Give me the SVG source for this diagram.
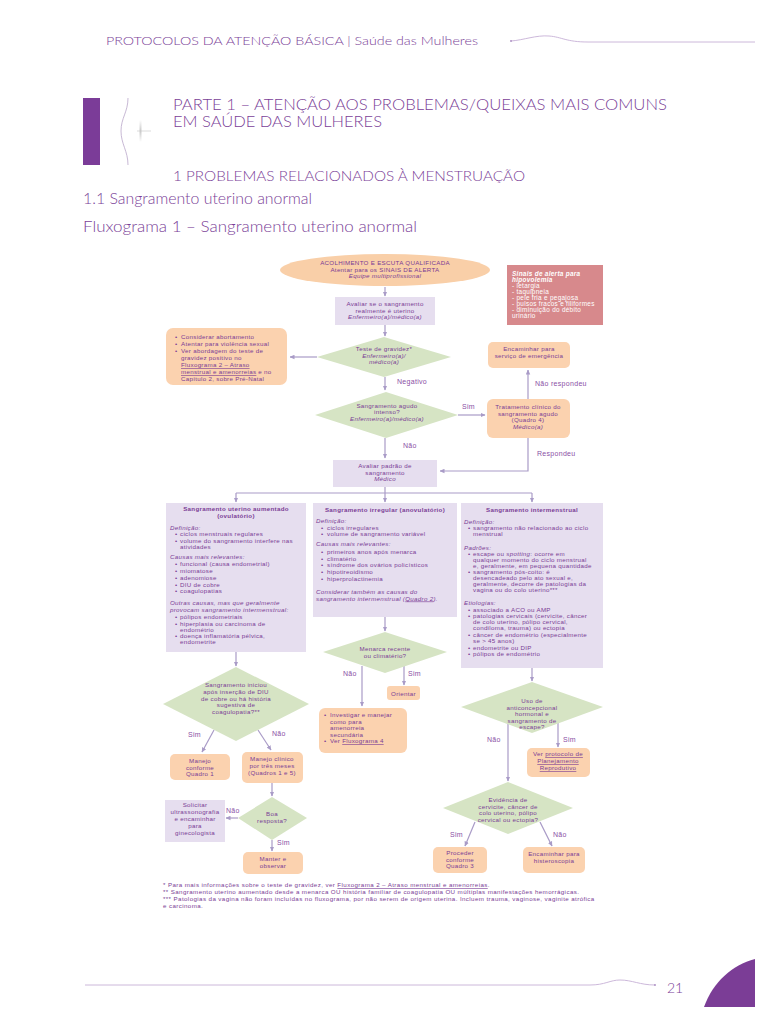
<svg xmlns="http://www.w3.org/2000/svg" width="768" height="1024" viewBox="0 0 768 1024">
<defs>
<marker id="ah" viewBox="0 0 10 10" refX="9" refY="5" markerWidth="5" markerHeight="5" orient="auto" markerUnits="userSpaceOnUse"><path d="M0,0.5 L10,5 L0,9.5 Z" fill="#a99bc7"/></marker>
<linearGradient id="tickg" x1="0" y1="0" x2="0" y2="1"><stop offset="0" stop-color="#ffffff"/><stop offset="0.5" stop-color="#c8c8c8"/><stop offset="1" stop-color="#ffffff"/></linearGradient>
<style>
.h{font-family:"Lato","Open Sans","Liberation Sans",sans-serif;fill:#7b3f98;font-weight:300}
.t{font-family:"Liberation Sans","Arimo",Arial,sans-serif;font-size:6.2px;letter-spacing:0.3px;fill:#7a3c95}
.w{fill:#ffffff;font-size:6.4px}
.f{letter-spacing:0.4px}
.c{text-anchor:middle}
.i{font-style:italic}
.b{font-weight:bold}
.peach{fill:#fbd2af}
.green{fill:#d6e4c4}
.lav{fill:#e6deef}
.con{stroke:#a99bc7;stroke-width:1.2;fill:none}
.lbl{font-family:"Liberation Sans",Arial,sans-serif;font-size:7px;letter-spacing:0.3px;fill:#8a4fa5}
.u{text-decoration:underline}
</style>
</defs>
<rect width="768" height="1024" fill="#ffffff"/>

<g id="page-header">
<text class="h" x="106" y="45" font-size="12" textLength="372" lengthAdjust="spacingAndGlyphs">PROTOCOLOS DA ATENÇÃO BÁSICA | Saúde das Mulheres</text>
<path d="M511,41 C524,40 536,35 549,36 C562,37 566,42 588,42 L755,42" fill="none" stroke="#c6b0d6" stroke-width="0.9"/>
<circle cx="511" cy="41" r="0.9" fill="#a98bc0"/>
<rect x="83" y="98" width="17" height="67" fill="#7b3c98"/>
<path d="M128,98 C128,112 121,118 121,131 C121,144 128,151 128,165" fill="none" stroke="#b9a6c9" stroke-width="0.8"/>
<line x1="137" y1="131" x2="151" y2="131" stroke="#c4c4c4" stroke-width="0.6"/>
<rect x="139.5" y="120" width="2" height="22" fill="url(#tickg)"/>
<text class="h" x="173" y="110" font-size="15.5" fill="#8c58a8" textLength="494" lengthAdjust="spacingAndGlyphs">PARTE 1 – ATENÇÃO AOS PROBLEMAS/QUEIXAS MAIS COMUNS</text>
<text class="h" x="173" y="127" font-size="15.5" textLength="209" lengthAdjust="spacingAndGlyphs">EM SAÚDE DAS MULHERES</text>
<text class="h" x="173" y="181" font-size="14" textLength="352" lengthAdjust="spacingAndGlyphs">1 PROBLEMAS RELACIONADOS À MENSTRUAÇÃO</text>
<text class="h" x="83" y="204" font-size="15" textLength="229" lengthAdjust="spacingAndGlyphs">1.1 Sangramento uterino anormal</text>
<text class="h" x="83" y="232" font-size="15" textLength="334" lengthAdjust="spacingAndGlyphs">Fluxograma 1 – Sangramento uterino anormal</text>
</g>

<g id="connectors">
<line class="con" x1="385" y1="287" x2="385" y2="296" marker-end="url(#ah)"/>
<line class="con" x1="385" y1="325" x2="385" y2="336" marker-end="url(#ah)"/>
<line class="con" x1="317" y1="357" x2="290" y2="357" marker-end="url(#ah)"/>
<line class="con" x1="385" y1="377" x2="385" y2="390" marker-end="url(#ah)"/>
<line class="con" x1="458" y1="415" x2="485" y2="415" marker-end="url(#ah)"/>
<line class="con" x1="528" y1="399" x2="528" y2="370" marker-end="url(#ah)"/>
<polyline class="con" points="528,438 528,471 440,471" marker-end="url(#ah)"/>
<line class="con" x1="385" y1="438" x2="385" y2="458" marker-end="url(#ah)"/>
<polyline class="con" points="385,487 385,493"/>
<line class="con" x1="236" y1="493" x2="532" y2="493"/>
<line class="con" x1="236" y1="493" x2="236" y2="502" marker-end="url(#ah)"/>
<line class="con" x1="385" y1="493" x2="385" y2="502" marker-end="url(#ah)"/>
<line class="con" x1="532" y1="493" x2="532" y2="502" marker-end="url(#ah)"/>
<line class="con" x1="236" y1="652" x2="236" y2="666" marker-end="url(#ah)"/>
<line class="con" x1="214" y1="730" x2="202" y2="752" marker-end="url(#ah)"/>
<line class="con" x1="258" y1="730" x2="271" y2="750" marker-end="url(#ah)"/>
<line class="con" x1="272" y1="783" x2="272" y2="796" marker-end="url(#ah)"/>
<line class="con" x1="238" y1="818" x2="226" y2="818" marker-end="url(#ah)"/>
<line class="con" x1="272" y1="840" x2="272" y2="851" marker-end="url(#ah)"/>
<line class="con" x1="385" y1="617" x2="385" y2="631" marker-end="url(#ah)"/>
<line class="con" x1="362" y1="666" x2="362" y2="706" marker-end="url(#ah)"/>
<line class="con" x1="404" y1="666" x2="404" y2="685" marker-end="url(#ah)"/>
<line class="con" x1="532" y1="668" x2="532" y2="681" marker-end="url(#ah)"/>
<line class="con" x1="508" y1="724" x2="508" y2="781" marker-end="url(#ah)"/>
<line class="con" x1="558" y1="723" x2="558" y2="747" marker-end="url(#ah)"/>
<line class="con" x1="475" y1="822" x2="465" y2="846" marker-end="url(#ah)"/>
<line class="con" x1="540" y1="822" x2="552" y2="846" marker-end="url(#ah)"/>
</g>

<g id="edge-labels">
<text class="lbl" x="397" y="384">Negativo</text>
<text class="lbl" x="462" y="409">Sim</text>
<text class="lbl" x="535" y="386">Não respondeu</text>
<text class="lbl" x="537" y="456">Respondeu</text>
<text class="lbl" x="403" y="448">Não</text>
<text class="lbl" x="188" y="737">Sim</text>
<text class="lbl" x="272" y="736">Não</text>
<text class="lbl" x="226" y="813">Não</text>
<text class="lbl" x="277" y="845">Sim</text>
<text class="lbl" x="343" y="676">Não</text>
<text class="lbl" x="408" y="676">Sim</text>
<text class="lbl" x="487" y="742">Não</text>
<text class="lbl" x="563" y="742">Sim</text>
<text class="lbl" x="450" y="837">Sim</text>
<text class="lbl" x="553" y="837">Não</text>
</g>

<g id="n-acolhimento">
<ellipse cx="385" cy="270" rx="105" ry="16" fill="#f9cfa8"/>
<text class="t c"><tspan x="385" y="265">ACOLHIMENTO E ESCUTA QUALIFICADA</tspan><tspan x="385" y="271.5">Atentar para os SINAIS DE ALERTA</tspan><tspan x="385" y="278" class="i">Equipe multiprofissional</tspan></text>
</g>

<g id="n-sinais">
<rect x="507" y="265" width="96" height="60" fill="#d7898c"/>
<text class="t w"><tspan x="512" y="276" class="i b">Sinais de alerta para</tspan><tspan x="512" y="282" class="i b">hipovolemia</tspan><tspan x="512" y="288">- letargia</tspan><tspan x="512" y="294">- taquipneia</tspan><tspan x="512" y="300">- pele fria e pegajosa</tspan><tspan x="512" y="306">- pulsos fracos e filiformes</tspan><tspan x="512" y="312">- diminuição do débito</tspan><tspan x="512" y="318">urinário</tspan></text>
</g>

<g id="n-avaliar-uterino">
<rect x="335" y="297" width="100" height="28" class="lav"/>
<text class="t c"><tspan x="385" y="306">Avaliar se o sangramento</tspan><tspan x="385" y="312.5">realmente é uterino</tspan><tspan x="385" y="319" class="i">Enfermeiro(a)/médico(a)</tspan></text>
</g>

<g id="n-gravidez-positivo">
<rect x="166" y="328" width="121" height="57" rx="7" class="peach"/>
<text class="t"><tspan x="175" y="339">•</tspan><tspan x="181">Considerar abortamento</tspan><tspan x="175" y="346">•</tspan><tspan x="181">Atentar para violência sexual</tspan><tspan x="175" y="353">•</tspan><tspan x="181">Ver abordagem do teste de</tspan><tspan x="181" y="360">gravidez positivo no</tspan><tspan x="181" y="367" class="u">Fluxograma 2 – Atraso</tspan><tspan x="181" y="374" class="u">menstrual e amenorreias</tspan><tspan> e no</tspan><tspan x="181" y="381">Capítulo 2, sobre Pré-Natal</tspan></text>
</g>

<g id="n-teste-gravidez">
<polygon points="384,337 451,357 384,377 317,357" class="green"/>
<text class="t c"><tspan x="384" y="351">Teste de gravidez*</tspan><tspan x="384" y="357.5" class="i">Enfermeiro(a)/</tspan><tspan x="384" y="364" class="i">médico(a)</tspan></text>
</g>

<g id="n-sangramento-agudo">
<polygon points="386,392 458,415 386,438 315,415" class="green"/>
<text class="t c"><tspan x="387" y="408">Sangramento agudo</tspan><tspan x="387" y="414">intenso?</tspan><tspan x="387" y="420.5" class="i">Enfermeiro(a)/médico(a)</tspan></text>
</g>

<g id="n-emergencia">
<rect x="488" y="342" width="82" height="26" rx="5" class="peach"/>
<text class="t c"><tspan x="529" y="351">Encaminhar para</tspan><tspan x="529" y="358">serviço de emergência</tspan></text>
</g>

<g id="n-tratamento">
<rect x="487" y="399" width="83" height="39" rx="6" class="peach"/>
<text class="t c"><tspan x="528" y="409">Tratamento clínico do</tspan><tspan x="528" y="415.5">sangramento agudo</tspan><tspan x="528" y="422">(Quadro 4)</tspan><tspan x="528" y="428.5" class="i">Médico(a)</tspan></text>
</g>

<g id="n-avaliar-padrao">
<rect x="333" y="460" width="104" height="27" class="lav"/>
<text class="t c"><tspan x="385" y="468">Avaliar padrão de</tspan><tspan x="385" y="474.5">sangramento</tspan><tspan x="385" y="481" class="i">Médico</tspan></text>
</g>

<g id="n-ovulatorio">
<rect x="166" y="503" width="140" height="149" class="lav"/>
<text class="t"><tspan x="236" y="511" class="b" text-anchor="middle">Sangramento uterino aumentado</tspan><tspan x="236" y="517.5" class="b" text-anchor="middle">(ovulatório)</tspan><tspan x="170" y="530" class="i">Definição:</tspan><tspan x="175" y="536">•</tspan><tspan x="180">ciclos menstruais regulares</tspan><tspan x="175" y="543">•</tspan><tspan x="180">volume do sangramento interfere nas</tspan><tspan x="180" y="549">atividades</tspan><tspan x="170" y="559" class="i">Causas mais relevantes:</tspan><tspan x="175" y="566">•</tspan><tspan x="180">funcional (causa endometrial)</tspan><tspan x="175" y="573">•</tspan><tspan x="180">miomatose</tspan><tspan x="175" y="580">•</tspan><tspan x="180">adenomiose</tspan><tspan x="175" y="586.5">•</tspan><tspan x="180">DIU de cobre</tspan><tspan x="175" y="593">•</tspan><tspan x="180">coagulopatias</tspan><tspan x="170" y="605" class="i">Outras causas, mas que geralmente</tspan><tspan x="170" y="611.5" class="i">provocam sangramento intermenstrual:</tspan><tspan x="175" y="619">•</tspan><tspan x="180">pólipos endometriais</tspan><tspan x="175" y="625.5">•</tspan><tspan x="180">hiperplasia ou carcinoma de</tspan><tspan x="180" y="631.5">endométrio</tspan><tspan x="175" y="638">•</tspan><tspan x="180">doença inflamatória pélvica,</tspan><tspan x="180" y="644">endometrite</tspan></text>
</g>

<g id="n-anovulatorio">
<rect x="313" y="503" width="144" height="114" class="lav"/>
<text class="t"><tspan x="385" y="512" class="b" text-anchor="middle">Sangramento irregular (anovulatório)</tspan><tspan x="316" y="523" class="i">Definição:</tspan><tspan x="321" y="529.5">•</tspan><tspan x="327">ciclos irregulares</tspan><tspan x="321" y="536">•</tspan><tspan x="327">volume de sangramento variável</tspan><tspan x="316" y="545.5" class="i">Causas mais relevantes:</tspan><tspan x="321" y="554">•</tspan><tspan x="327">primeiros anos após menarca</tspan><tspan x="321" y="560.5">•</tspan><tspan x="327">climatério</tspan><tspan x="321" y="567">•</tspan><tspan x="327">síndrome dos ovários policísticos</tspan><tspan x="321" y="574">•</tspan><tspan x="327">hipotireoidismo</tspan><tspan x="321" y="581">•</tspan><tspan x="327">hiperprolactinemia</tspan><tspan x="316" y="594" class="i">Considerar também as causas do</tspan><tspan x="316" y="600.5" class="i">sangramento intermenstrual (</tspan><tspan class="i u">Quadro 2</tspan><tspan class="i">).</tspan></text>
</g>

<g id="n-intermenstrual">
<rect x="461" y="503" width="142" height="165" class="lav"/>
<text class="t"><tspan x="532" y="512" class="b" text-anchor="middle">Sangramento intermenstrual</tspan><tspan x="464" y="524" class="i">Definição:</tspan><tspan x="468" y="530">•</tspan><tspan x="473">sangramento não relacionado ao ciclo</tspan><tspan x="473" y="536">menstrual</tspan><tspan x="464" y="550" class="i">Padrões:</tspan><tspan x="468" y="556">•</tspan><tspan x="473">escape ou </tspan><tspan class="i">spotting</tspan><tspan>: ocorre em</tspan><tspan x="473" y="562">qualquer momento do ciclo menstrual</tspan><tspan x="473" y="568">e, geralmente, em pequena quantidade</tspan><tspan x="468" y="574">•</tspan><tspan x="473">sangramento pós-coito: é</tspan><tspan x="473" y="580">desencadeado pelo ato sexual e,</tspan><tspan x="473" y="586">geralmente, decorre de patologias da</tspan><tspan x="473" y="592">vagina ou do colo uterino***</tspan><tspan x="464" y="605" class="i">Etiologias:</tspan><tspan x="468" y="612">•</tspan><tspan x="473">associado a ACO ou AMP</tspan><tspan x="468" y="618">•</tspan><tspan x="473">patologias cervicais (cervicite, câncer</tspan><tspan x="473" y="624">de colo uterino, pólipo cervical,</tspan><tspan x="473" y="630">condiloma, trauma) ou ectopia</tspan><tspan x="468" y="637">•</tspan><tspan x="473">câncer de endométrio (especialmente</tspan><tspan x="473" y="643">se &gt; 45 anos)</tspan><tspan x="468" y="650">•</tspan><tspan x="473">endometrite ou DIP</tspan><tspan x="468" y="656">•</tspan><tspan x="473">pólipos de endométrio</tspan></text>
</g>

<g id="n-diu-coagulopatia">
<polygon points="236,667 309,704 236,741 163,704" class="green"/>
<text class="t c"><tspan x="236" y="687">Sangramento iniciou</tspan><tspan x="236" y="694">após inserção de DIU</tspan><tspan x="236" y="700.5">de cobre ou há história</tspan><tspan x="236" y="707">sugestiva de</tspan><tspan x="236" y="714">coagulopatia?**</tspan></text>
</g>

<g id="n-manejo-q1">
<rect x="170" y="754" width="60" height="26" rx="5" class="peach"/>
<text class="t c"><tspan x="200" y="763">Manejo</tspan><tspan x="200" y="769.5">conforme</tspan><tspan x="200" y="776">Quadro 1</tspan></text>
</g>

<g id="n-manejo-clinico">
<rect x="242" y="752" width="61" height="31" rx="5" class="peach"/>
<text class="t c"><tspan x="272" y="761">Manejo clínico</tspan><tspan x="272" y="768">por três meses</tspan><tspan x="272" y="775">(Quadros 1 e 5)</tspan></text>
</g>

<g id="n-boa-resposta">
<polygon points="272,797 307,818 272,840 238,818" class="green"/>
<text class="t c"><tspan x="272" y="816">Boa</tspan><tspan x="272" y="822.5">resposta?</tspan></text>
</g>

<g id="n-ultrassonografia">
<rect x="165" y="800" width="60" height="42" class="lav"/>
<text class="t c"><tspan x="195" y="807">Solicitar</tspan><tspan x="195" y="814">ultrassonografia</tspan><tspan x="195" y="821">e encaminhar</tspan><tspan x="195" y="828">para</tspan><tspan x="195" y="835">ginecologista</tspan></text>
</g>

<g id="n-manter">
<rect x="243" y="852" width="60" height="22" rx="5" class="peach"/>
<text class="t c"><tspan x="273" y="861">Manter e</tspan><tspan x="273" y="868">observar</tspan></text>
</g>

<g id="n-menarca">
<polygon points="385,632 447,652 385,673 323,652" class="green"/>
<text class="t c"><tspan x="385" y="651">Menarca recente</tspan><tspan x="385" y="657.5">ou climatério?</tspan></text>
</g>

<g id="n-orientar">
<rect x="387" y="686" width="33" height="14" rx="3" class="peach"/>
<text class="t c" x="403.5" y="695.5">Orientar</text>
</g>

<g id="n-amenorreia">
<rect x="319" y="708" width="88" height="45" rx="6" class="peach"/>
<text class="t"><tspan x="324" y="717">•</tspan><tspan x="330">Investigar e manejar</tspan><tspan x="330" y="723.5">como para</tspan><tspan x="330" y="730">amenorreia</tspan><tspan x="330" y="736.5">secundária</tspan><tspan x="324" y="743">•</tspan><tspan x="330">Ver </tspan><tspan class="u">Fluxograma 4</tspan></text>
</g>

<g id="n-anticoncepcional">
<polygon points="532,682 603,707 532,733 461,707" class="green"/>
<text class="t c"><tspan x="532" y="703">Uso de</tspan><tspan x="532" y="709.5">anticoncepcional</tspan><tspan x="532" y="716">hormonal e</tspan><tspan x="532" y="722.5">sangramento de</tspan><tspan x="532" y="729">escape?</tspan></text>
</g>

<g id="n-planejamento">
<rect x="527" y="748" width="63" height="29" rx="5" class="peach"/>
<text class="t"><tspan x="533" y="756">Ver </tspan><tspan class="u">protocolo de</tspan><tspan x="558" y="763" class="u" text-anchor="middle">Planejamento</tspan><tspan x="558" y="770" class="u" text-anchor="middle">Reprodutivo</tspan></text>
</g>

<g id="n-cervicite">
<polygon points="508,782 573,808 508,834 443,808" class="green"/>
<text class="t c"><tspan x="508" y="802">Evidência de</tspan><tspan x="508" y="808.5">cervicite, câncer de</tspan><tspan x="508" y="815">colo uterino, pólipo</tspan><tspan x="508" y="821.5">cervical ou ectopia?</tspan></text>
</g>

<g id="n-quadro3">
<rect x="433" y="847" width="54" height="26" rx="5" class="peach"/>
<text class="t c"><tspan x="460" y="855">Proceder</tspan><tspan x="460" y="861.5">conforme</tspan><tspan x="460" y="868">Quadro 3</tspan></text>
</g>

<g id="n-histeroscopia">
<rect x="523" y="847" width="62" height="26" rx="5" class="peach"/>
<text class="t c"><tspan x="554" y="856">Encaminhar para</tspan><tspan x="554" y="863">histeroscopia</tspan></text>
</g>

<g id="footnotes">
<text class="t f"><tspan x="163" y="887">* Para mais informações sobre o teste de gravidez, ver </tspan><tspan class="u">Fluxograma 2 – Atraso menstrual e amenorreias</tspan><tspan>.</tspan><tspan x="163" y="894">** Sangramento uterino aumentado desde a menarca OU história familiar de coagulopatia OU múltiplas manifestações hemorrágicas.</tspan><tspan x="163" y="901">*** Patologias da vagina não foram incluídas no fluxograma, por não serem de origem uterina. Incluem trauma, vaginose, vaginite atrófica</tspan><tspan x="163" y="908">e carcinoma.</tspan></text>
</g>

<g id="page-footer">
<path d="M85,985 L590,985 C605,985 610,980 620,980 C632,980 640,985 655,985" fill="none" stroke="#c6b0d6" stroke-width="0.9"/>
<circle cx="655" cy="985" r="0.9" fill="#a98bc0"/>
<text class="h" x="667" y="993" font-size="14" fill="#8a55a5">21</text>
<path d="M704,1007 C713,982 732,965 755,959 L755,1007 Z" fill="#7b3d96"/>
</g>
</svg>
